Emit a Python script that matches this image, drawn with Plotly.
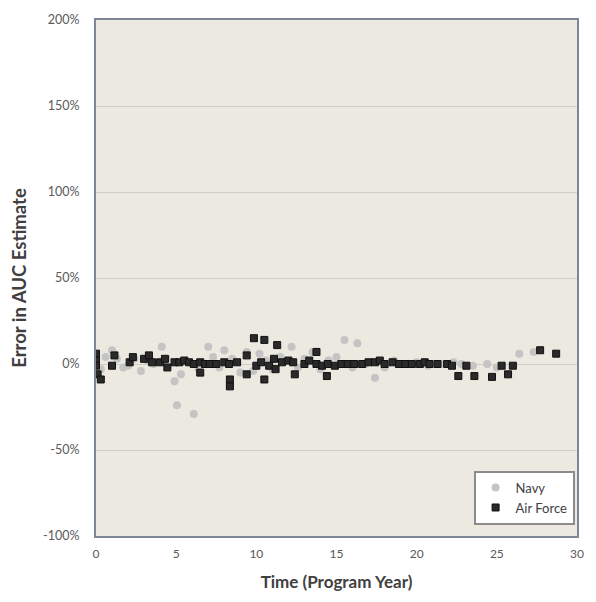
import plotly.graph_objects as go

# Air Force (dark squares)
af_year = [0, 0, 0, 0.1, 0.3, 1.0, 1.15, 2.1, 2.3, 3.0, 3.3, 3.5, 4.0, 4.3, 4.45, 4.9, 5.2, 5.5,
           5.8, 6.1, 6.5, 6.5, 6.8, 7.1, 7.5, 8.0, 8.3, 8.35, 8.35, 8.8, 9.4, 9.4, 9.85, 10.0,
           10.3, 10.5, 10.5, 10.8, 11.1, 11.2, 11.3, 11.6, 12.0, 12.3, 12.4, 13.0, 13.3, 13.75,
           13.75, 14.1, 14.4, 14.45, 14.9, 15.3, 15.7, 16.1, 16.6, 17.0, 17.4, 17.7, 18.0, 18.5,
           18.9, 19.3, 19.7, 20.2, 20.5, 20.8, 21.3, 21.9, 22.2, 22.6, 23.1, 23.6, 24.7, 25.3,
           25.7, 26.0, 27.7, 28.7]
af_err = [0.06, 0.02, -0.01, -0.06, -0.09, -0.01, 0.05, 0.01, 0.04, 0.03, 0.05, 0.01, 0.01, 0.03,
          -0.02, 0.01, 0.01, 0.02, 0.01, 0.00, 0.01, -0.05, 0.00, 0.00, 0.00, 0.01, 0.00, -0.09,
          -0.13, 0.01, 0.05, -0.06, 0.15, -0.01, 0.01, 0.14, -0.09, -0.01, 0.03, -0.03, 0.11,
          0.01, 0.02, 0.01, -0.06, 0.00, 0.02, 0.07, 0.00, -0.01, -0.07, 0.00, -0.01, 0.00, 0.00,
          0.00, 0.00, 0.01, 0.01, 0.02, 0.00, 0.01, 0.00, 0.00, 0.00, 0.00, 0.01, 0.00, 0.00,
          0.00, -0.01, -0.07, -0.01, -0.07, -0.075, -0.01, -0.06, -0.01, 0.08, 0.06]

# Navy (grey circles)
navy_year = [0, 0.3, 0.6, 1.0, 1.3, 1.7, 2.0, 2.4, 2.8, 3.2, 3.6, 4.1, 4.4, 4.9, 5.05, 5.3, 5.6,
             6.1, 6.4, 7.0, 7.3, 7.7, 8.0, 8.5, 9.0, 9.4, 9.8, 10.2, 10.6, 11.0, 11.5, 12.2, 12.6,
             13.0, 13.5, 14.0, 14.5, 15.0, 15.5, 16.0, 16.3, 16.8, 17.4, 18.0, 18.6, 19.2, 20.0,
             20.7, 21.5, 22.3, 22.8, 23.5, 24.4, 25.0, 26.4, 27.3]
navy_err = [0.02, -0.03, 0.04, 0.08, 0.03, -0.02, -0.01, 0.03, -0.04, 0.02, 0.00, 0.10, 0.03,
            -0.10, -0.24, -0.06, 0.02, -0.29, -0.03, 0.10, 0.04, -0.02, 0.08, 0.03, -0.05, 0.07,
            -0.04, 0.06, 0.02, -0.03, 0.04, 0.10, -0.02, 0.03, 0.07, -0.03, 0.02, 0.04, 0.14,
            -0.02, 0.12, 0.00, -0.08, -0.02, 0.02, 0.00, 0.01, -0.01, 0.00, 0.01, 0.00, -0.01,
            0.00, -0.02, 0.06, 0.07]

y_ticks = [-1.0, -0.5, 0.0, 0.5, 1.0, 1.5, 2.0]
y_labels = ["-100%", "-50%", "0%", "50%", "100%", "150%", "200%"]
x_ticks = [0, 5, 10, 15, 20, 25, 30]

fig = go.Figure()
fig.add_trace(go.Scatter(
    x=navy_year, y=navy_err, mode="markers", name="Navy",
    marker=dict(symbol="circle", size=8, color="#c4c4c4", line=dict(width=0)),
))
fig.add_trace(go.Scatter(
    x=af_year, y=af_err, mode="markers", name="Air Force",
    marker=dict(symbol="square", size=7, color="#2a2a2a", line=dict(width=1, color="#111111")),
))

font_family = "Lato, 'Liberation Sans', sans-serif"
fig.update_layout(
    width=596, height=602,
    margin=dict(l=96, r=16, t=15, b=66),
    paper_bgcolor="white",
    plot_bgcolor="#ece9e1",
    font=dict(family=font_family, color="#595959", size=12),
    showlegend=True,
    legend=dict(
        x=0.995, y=0.022, xanchor="right", yanchor="bottom",
        bgcolor="white", bordercolor="#8c8c8c", borderwidth=2,
        font=dict(size=13, color="#404040"),
        itemsizing="trace", itemwidth=30,
        tracegroupgap=0,
    ),
)
fig.update_xaxes(
    range=[0, 30], tickvals=x_ticks, showgrid=False, zeroline=False,
    showline=True, linecolor="#7d8796", linewidth=2, mirror=True,
    ticks="", tickfont=dict(size=12, color="#595959"), ticklabelstandoff=6,
    title=dict(text="<b>Time (Program Year)</b>", font=dict(size=17, color="#404040"), standoff=16),
)
fig.update_yaxes(
    range=[-1, 2], tickvals=y_ticks, ticktext=y_labels,
    showgrid=True, gridcolor="#cfcdc6", gridwidth=1, zeroline=False,
    showline=True, linecolor="#7d8796", linewidth=2, mirror=True,
    ticks="", tickfont=dict(size=12.5, color="#595959"), ticklabelstandoff=12,
    title=dict(text="<b>Error in AUC Estimate</b>", font=dict(size=18.5, color="#404040"), standoff=12),
)

fig.write_html("out.html")
